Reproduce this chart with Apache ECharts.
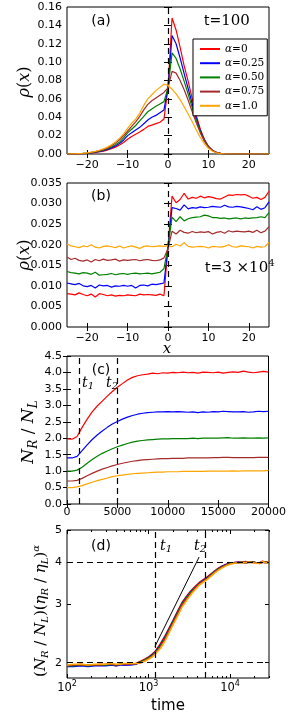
<!DOCTYPE html>
<html><head><meta charset="utf-8">
<script src="https://cdn.jsdelivr.net/npm/echarts@6/dist/echarts.min.js"></script>
<style>html,body{margin:0;padding:0;background:#fff}#c{width:289px;height:722px}</style>
</head><body><div id="c"></div>
<script>
// ---------- DATA ----------
const xPos = [-25,-24,-23,-22,-21,-20,-19,-18,-17,-16,-15,-14,-13,-12,-11,-10,-9,-8,-7,-6,-5,-4,-3,-2,-1,0,1,2,3,4,5,6,7,8,9,10,11,12,13,14,15,16,17,18,19,20,21,22,23,24,25];
const seriesNames = ['α=0','α=0.25','α=0.50','α=0.75','α=1.0'];
const xTicksAB = [-20,-10,0,10,20];

// panel (a) t=100
const aRed    = [0,0,0.0001,0.0002,0.0004,0.0007,0.0011,0.0016,0.0023,0.0032,0.0043,0.0058,0.0075,0.0098,0.0125,0.0160,0.0190,0.0215,0.0240,0.0268,0.0300,0.0315,0.0330,0.0345,0.0380,0.0720,0.1480,0.1350,0.1160,0.0960,0.0790,0.0600,0.0420,0.0270,0.0160,0.0085,0.0040,0.0017,0.0006,0.0002,0,0,0,0,0,0,0,0,0,0,0];
const aBlue   = [0,0,0.0001,0.0003,0.0005,0.0008,0.0013,0.0019,0.0027,0.0037,0.0050,0.0067,0.0088,0.0114,0.0150,0.0200,0.0230,0.0260,0.0290,0.0330,0.0370,0.0400,0.0420,0.0450,0.0480,0.0720,0.1290,0.1200,0.1045,0.0875,0.0710,0.0545,0.0390,0.0255,0.0152,0.0082,0.0039,0.0017,0.0006,0.0002,0,0,0,0,0,0,0,0,0,0,0];
const aGreen  = [0,0.0001,0.0002,0.0003,0.0006,0.0009,0.0015,0.0022,0.0031,0.0042,0.0057,0.0076,0.0100,0.0130,0.0175,0.0230,0.0270,0.0310,0.0360,0.0410,0.0460,0.0490,0.0520,0.0545,0.0570,0.0720,0.1100,0.1040,0.0925,0.0790,0.0650,0.0505,0.0365,0.0245,0.0148,0.0080,0.0038,0.0016,0.0006,0.0002,0,0,0,0,0,0,0,0,0,0,0];
const aBrown  = [0,0.0001,0.0002,0.0004,0.0007,0.0011,0.0017,0.0025,0.0035,0.0048,0.0065,0.0090,0.0120,0.0155,0.0200,0.0250,0.0300,0.0350,0.0410,0.0480,0.0540,0.0580,0.0610,0.0640,0.0670,0.0720,0.0900,0.0880,0.0800,0.0700,0.0585,0.0460,0.0340,0.0230,0.0140,0.0078,0.0038,0.0016,0.0006,0.0002,0,0,0,0,0,0,0,0,0,0,0];
const aOrange = [0,0.0001,0.0002,0.0005,0.0008,0.0013,0.0020,0.0029,0.0041,0.0056,0.0075,0.0100,0.0130,0.0170,0.0220,0.0280,0.0335,0.0380,0.0445,0.0530,0.0600,0.0645,0.0690,0.0725,0.0760,0.0745,0.0705,0.0655,0.0590,0.0515,0.0435,0.0350,0.0262,0.0180,0.0112,0.0062,0.0030,0.0013,0.0005,0.0002,0,0,0,0,0,0,0,0,0,0,0];

// panel (b) t=3e4
const bRed    = [0.0081,0.0080,0.0078,0.0083,0.0079,0.0076,0.0080,0.0073,0.0081,0.0079,0.0076,0.0078,0.0075,0.0077,0.0076,0.0078,0.0077,0.0076,0.0080,0.0078,0.0079,0.0078,0.0077,0.0080,0.0076,0.0195,0.0318,0.0302,0.0310,0.0325,0.0311,0.0315,0.0313,0.0318,0.0314,0.0317,0.0315,0.0312,0.0311,0.0316,0.0321,0.0320,0.0322,0.0321,0.0322,0.0318,0.0313,0.0315,0.0310,0.0315,0.0330];
const bBlue   = [0.0107,0.0105,0.0103,0.0106,0.0100,0.0098,0.0101,0.0095,0.0102,0.0100,0.0101,0.0097,0.0100,0.0099,0.0101,0.0099,0.0101,0.0095,0.0101,0.0102,0.0100,0.0104,0.0103,0.0105,0.0107,0.0195,0.0290,0.0288,0.0284,0.0297,0.0287,0.0290,0.0289,0.0292,0.0290,0.0291,0.0293,0.0292,0.0291,0.0296,0.0292,0.0291,0.0293,0.0292,0.0290,0.0288,0.0285,0.0292,0.0286,0.0290,0.0304];
const bGreen  = [0.0135,0.0132,0.0131,0.0129,0.0132,0.0131,0.0128,0.0133,0.0126,0.0127,0.0128,0.0130,0.0127,0.0129,0.0130,0.0128,0.0130,0.0131,0.0129,0.0130,0.0131,0.0129,0.0131,0.0133,0.0142,0.0195,0.0267,0.0256,0.0268,0.0258,0.0263,0.0266,0.0267,0.0268,0.0272,0.0270,0.0266,0.0266,0.0264,0.0265,0.0263,0.0264,0.0265,0.0263,0.0265,0.0264,0.0265,0.0266,0.0268,0.0266,0.0278];
const bBrown  = [0.0170,0.0164,0.0167,0.0162,0.0160,0.0163,0.0158,0.0164,0.0161,0.0165,0.0162,0.0163,0.0165,0.0160,0.0163,0.0162,0.0163,0.0164,0.0161,0.0163,0.0164,0.0162,0.0161,0.0163,0.0168,0.0190,0.0233,0.0226,0.0235,0.0230,0.0228,0.0232,0.0229,0.0231,0.0230,0.0232,0.0226,0.0230,0.0232,0.0228,0.0234,0.0231,0.0233,0.0232,0.0231,0.0233,0.0230,0.0235,0.0229,0.0233,0.0244];
const bOrange = [0.0202,0.0197,0.0195,0.0193,0.0197,0.0195,0.0200,0.0194,0.0192,0.0196,0.0197,0.0195,0.0193,0.0197,0.0192,0.0195,0.0197,0.0194,0.0191,0.0196,0.0197,0.0195,0.0196,0.0197,0.0196,0.0198,0.0195,0.0201,0.0197,0.0205,0.0196,0.0194,0.0195,0.0196,0.0195,0.0192,0.0196,0.0195,0.0194,0.0196,0.0200,0.0195,0.0194,0.0197,0.0196,0.0195,0.0192,0.0196,0.0194,0.0195,0.0206];

// panel (c) N_R/N_L vs time
const tC = [0,500,1000,1500,2000,2500,3000,3500,4000,4500,5000,5500,6000,6500,7000,7500,8000,8500,9000,9500,10000,10500,11000,11500,12000,12500,13000,13500,14000,14500,15000,15500,16000,16500,17000,17500,18000,18500,19000,19500,20000];
const cRed    = [1.98,1.97,2.05,2.33,2.58,2.80,2.98,3.13,3.28,3.42,3.55,3.66,3.77,3.85,3.90,3.93,3.95,3.98,3.96,3.99,3.98,4.00,3.99,4.01,3.99,4.00,3.98,4.01,4.00,3.99,4.01,3.98,4.00,4.02,4.00,4.04,4.01,3.99,4.01,4.03,4.01];
const cBlue   = [1.40,1.40,1.45,1.62,1.80,1.96,2.10,2.22,2.33,2.43,2.51,2.58,2.64,2.69,2.73,2.76,2.78,2.79,2.80,2.80,2.81,2.80,2.81,2.80,2.79,2.80,2.78,2.80,2.79,2.81,2.80,2.82,2.81,2.80,2.80,2.81,2.79,2.80,2.82,2.81,2.82];
const cGreen  = [1.00,1.00,1.03,1.12,1.24,1.35,1.45,1.54,1.61,1.68,1.74,1.79,1.84,1.88,1.91,1.93,1.95,1.96,1.97,1.98,1.98,1.99,1.99,1.99,1.99,2.00,1.99,2.00,2.00,2.00,2.00,2.01,2.02,2.00,2.00,2.01,2.00,2.00,2.01,2.00,2.01];
const cBrown  = [0.70,0.70,0.72,0.78,0.86,0.93,1.00,1.06,1.11,1.16,1.20,1.24,1.27,1.30,1.32,1.34,1.35,1.36,1.37,1.38,1.38,1.39,1.39,1.39,1.40,1.40,1.40,1.40,1.40,1.41,1.41,1.42,1.42,1.41,1.41,1.41,1.41,1.41,1.42,1.42,1.42];
const cOrange = [0.50,0.50,0.52,0.56,0.61,0.66,0.71,0.75,0.79,0.83,0.86,0.88,0.90,0.92,0.93,0.94,0.95,0.96,0.97,0.97,0.98,0.98,0.98,0.99,0.99,0.99,0.99,0.99,1.00,1.00,1.00,1.00,1.00,1.01,1.00,1.01,1.01,1.01,1.01,1.01,1.02];
const t1 = 1200, t2 = 5000;

// panel (d) scaled ratio vs time (log-log)
const tD = [100,120,150,180,220,260,300,350,400,450,500,600,700,800,900,1000,1100,1200,1400,1600,1800,2000,2300,2600,3000,3400,3800,4200,4700,5200,5800,6500,7200,8000,9000,10000,11000,12500,14000,15500,17000,19000,21000,23000,25000,27500,30000];
const dRed    = [1.97,1.97,1.98,1.96,1.97,1.98,1.97,1.98,1.96,1.98,1.97,1.98,1.99,2.02,2.05,2.08,2.12,2.16,2.28,2.41,2.55,2.68,2.87,3.04,3.19,3.31,3.40,3.48,3.55,3.61,3.69,3.77,3.84,3.90,3.95,3.98,3.99,4.01,4.00,4.02,4.00,4.01,3.99,3.98,4.03,4.00,4.02];
const dBlue   = [1.95,1.95,1.96,1.95,1.96,1.96,1.96,1.97,1.96,1.97,1.97,1.97,1.98,2.01,2.04,2.07,2.11,2.15,2.26,2.39,2.53,2.66,2.85,3.02,3.17,3.29,3.38,3.46,3.53,3.59,3.67,3.76,3.83,3.89,3.94,3.97,3.99,4.00,4.01,3.99,4.00,4.01,3.98,3.99,4.01,3.99,4.01];
const dGreen  = [1.96,1.96,1.97,1.96,1.97,1.97,1.97,1.98,1.97,1.98,1.98,1.98,1.99,2.01,2.04,2.07,2.10,2.14,2.25,2.38,2.52,2.65,2.84,3.01,3.16,3.28,3.37,3.45,3.52,3.58,3.66,3.75,3.82,3.88,3.93,3.97,3.98,3.99,4.00,3.99,4.01,4.00,3.99,3.98,4.01,4.00,4.00];
const dBrown  = [1.96,1.97,1.97,1.97,1.97,1.97,1.98,1.98,1.97,1.98,1.98,1.98,1.99,2.00,2.03,2.06,2.09,2.13,2.23,2.36,2.50,2.63,2.82,2.99,3.14,3.26,3.36,3.44,3.51,3.57,3.65,3.74,3.81,3.87,3.92,3.96,3.98,3.99,4.00,3.98,4.00,4.00,3.98,3.97,4.00,3.99,4.00];
const dOrange = [1.97,1.98,1.98,1.97,1.98,1.98,1.98,1.99,1.98,1.98,1.99,1.99,1.99,2.00,2.02,2.05,2.08,2.12,2.21,2.33,2.47,2.60,2.78,2.95,3.10,3.23,3.33,3.42,3.49,3.55,3.63,3.72,3.79,3.85,3.91,3.95,3.97,3.99,4.00,3.99,4.01,3.99,3.97,3.98,4.02,3.98,4.01];
const slopeT = [1200, 4170];
const slopeY = [2.24, 4.15];
const dTicksX = [100, 1000, 10000];
const dMinorX = [200,300,400,500,600,700,800,900,2000,3000,4000,5000,6000,7000,8000,9000,20000,30000];
const dTicksY = [2, 3, 4, 5];

// ---------- STYLE ----------
const SANS = 'DejaVu Sans', SERIF = 'DejaVu Serif';
const COLORS = ['#ff0000', '#0000ff', '#008000', '#a52a2a', '#ffa500'];
const LW = 1.2;

const grids = [
  {left: 67, top: 7,   width: 202, height: 147},
  {left: 67, top: 183, width: 202, height: 144},
  {left: 67, top: 356, width: 202, height: 148},
  {left: 67, top: 530, width: 202, height: 148}
].map(g => Object.assign({show: true, borderColor: '#000', borderWidth: 1, backgroundColor: 'transparent', containLabel: false}, g));

const xAxes = [], yAxes = [];
const addX = o => (xAxes.push(o), xAxes.length - 1);
const addY = o => (yAxes.push(o), yAxes.length - 1);
const tick = (len, extra) => Object.assign({show: true, inside: true, length: len, lineStyle: {color: '#000', width: 1}}, extra || {});
const lbl = extra => Object.assign({color: '#000', fontFamily: SANS, fontSize: 11}, extra || {});
const minusFmt = v => (v < 0 ? '\u2212' + (-v) : String(v));
const base = {axisLine: {show: false}, splitLine: {show: false}};

function pairX(gi, o, labelExtra, tickExtra) {
  const main = addX(Object.assign({gridIndex: gi, position: 'bottom'}, base, o,
    {axisTick: tick(4, tickExtra), axisLabel: lbl(labelExtra)}));
  addX(Object.assign({gridIndex: gi, position: 'top'}, base, o,
    {axisTick: tick(4, tickExtra), axisLabel: {show: false}}));
  return main;
}
function pairY(gi, o, labelExtra, tickExtra) {
  const main = addY(Object.assign({gridIndex: gi, position: 'left'}, base, o,
    {axisTick: tick(4, tickExtra), axisLabel: lbl(labelExtra)}));
  addY(Object.assign({gridIndex: gi, position: 'right'}, base, o,
    {axisTick: tick(4, tickExtra), axisLabel: {show: false}}));
  return main;
}

// (a)
const xa = pairX(0, {type: 'value', min: -25, max: 25}, {margin: 6, customValues: xTicksAB, formatter: minusFmt}, {customValues: xTicksAB});
const ya = pairY(0, {type: 'value', min: 0, max: 0.16, interval: 0.02}, {margin: 5, formatter: v => v.toFixed(2)});
// (b)
const xb = pairX(1, {type: 'value', min: -25, max: 25}, {margin: 6, customValues: xTicksAB, formatter: minusFmt}, {customValues: xTicksAB});
const yb = pairY(1, {type: 'value', min: 0, max: 0.035, interval: 0.005}, {margin: 5, formatter: v => v.toFixed(3)});
// (c)
const xc = pairX(2, {type: 'value', min: 0, max: 20000, interval: 5000}, {margin: 3, formatter: v => String(v)});
const yc = pairY(2, {type: 'value', min: 0, max: 4.5, interval: 0.5}, {margin: 5, formatter: v => v.toFixed(1)});
// (d)
const supRich = {
  b: {fontFamily: SANS, fontSize: 11.5, color: '#000'},
  s: {fontFamily: SANS, fontSize: 8, color: '#000', padding: [0, 0, 9, 0]}
};
const xd = pairX(3, {type: 'log', logBase: 10, min: 100, max: 30000},
  {margin: 2, customValues: dTicksX, rich: supRich, formatter: v => '{b|10}{s|' + Math.round(Math.log10(v)) + '}'},
  {customValues: dTicksX});
addX(Object.assign({gridIndex: 3, position: 'bottom', type: 'log', logBase: 10, min: 100, max: 30000}, base,
  {axisTick: tick(2, {customValues: dMinorX}), axisLabel: {show: false}}));
addX(Object.assign({gridIndex: 3, position: 'top', type: 'log', logBase: 10, min: 100, max: 30000}, base,
  {axisTick: tick(2, {customValues: dMinorX}), axisLabel: {show: false}}));
const yd = pairY(3, {type: 'log', logBase: 10, min: 1.8, max: 5}, {margin: 5, customValues: dTicksY}, {customValues: dTicksY});

// ---------- SERIES ----------
function line(name, xi, yi, xsArr, ysArr, color, width) {
  return {type: 'line', name, xAxisIndex: xi, yAxisIndex: yi, data: xsArr.map((x, i) => [x, ysArr[i]]),
    showSymbol: false, symbol: 'none', lineStyle: {color, width: width || LW}, itemStyle: {color},
    animation: false, silent: true};
}
function dashes(xi, yi, data) {
  return {type: 'line', xAxisIndex: xi, yAxisIndex: yi, data: [], animation: false, silent: true, z: 5,
    markLine: {silent: true, symbol: 'none', animation: false, label: {show: false},
      lineStyle: {color: '#000', type: [6, 4], width: 1.2}, data}};
}
const series = [];
[aRed, aBlue, aGreen, aBrown, aOrange].forEach((s, i) => series.push(line(seriesNames[i], xa, ya, xPos, s, COLORS[i])));
series.push(dashes(xa, ya, [{xAxis: 0}]));
[bRed, bBlue, bGreen, bBrown, bOrange].forEach((s, i) => series.push(line('b' + i, xb, yb, xPos, s, COLORS[i])));
series.push(dashes(xb, yb, [{xAxis: 0}]));
[cRed, cBlue, cGreen, cBrown, cOrange].forEach((s, i) => series.push(line('c' + i, xc, yc, tC, s, COLORS[i])));
series.push(dashes(xc, yc, [{xAxis: t1}, {xAxis: t2}]));
[dRed, dBlue, dGreen, dBrown, dOrange].forEach((s, i) => series.push(line('d' + i, xd, yd, tD, s, COLORS[i], 1.6)));
series.push(line('slope', xd, yd, slopeT, slopeY, '#000', 1));
series.push(dashes(xd, yd, [{xAxis: t1}, {xAxis: t2}, {yAxis: 2}, {yAxis: 4}]));

// ---------- TEXT ----------
const R = (o) => Object.assign({fill: '#000'}, o);
const mathRich = (fs) => ({
  i: R({fontFamily: SERIF, fontStyle: 'italic', fontSize: fs}),
  r: R({fontFamily: SERIF, fontSize: fs}),
  s: R({fontFamily: SANS, fontSize: fs - 1}),
  sub: R({fontFamily: SERIF, fontStyle: 'italic', fontSize: Math.round(fs * 0.68), padding: [Math.round(fs * 0.5), 0, 0, 0]}),
  sup: R({fontFamily: SERIF, fontStyle: 'italic', fontSize: Math.round(fs * 0.68), padding: [0, 0, Math.round(fs * 0.6), 0]}),
  supr: R({fontFamily: SERIF, fontSize: Math.round(fs * 0.68), padding: [0, 0, Math.round(fs * 0.6), 0]})
});
function txt(text, x, y, opts) {
  opts = opts || {};
  return {type: 'text', x, y, rotation: opts.rot || 0, z: 100, silent: true,
    style: {text, fill: '#000', fontFamily: opts.ff || SANS, fontSize: opts.fs || 13,
      fontStyle: opts.fst || 'normal', align: opts.align || 'center', verticalAlign: 'middle', rich: opts.rich || mathRich(opts.fs || 13)}};
}
const graphic = [
  txt('(a)', 101, 21, {fs: 14}),
  txt('(b)', 101, 196, {fs: 14}),
  txt('(c)', 101, 370, {fs: 14}),
  txt('(d)', 101, 546, {fs: 14}),
  txt('{s|t=}{r|100}', 204, 21, {fs: 15, align: 'left'}),
  txt('{s|t=}{r|3 ×10}{supr|4}', 205, 268, {fs: 15, align: 'left'}),
  txt('{i|t}{sub|1}', 82, 383, {fs: 14, align: 'left'}),
  txt('{i|t}{sub|2}', 106, 383, {fs: 14, align: 'left'}),
  txt('{i|t}{sub|1}', 160, 546, {fs: 14, align: 'left'}),
  txt('{i|t}{sub|2}', 194, 546, {fs: 14, align: 'left'}),
  txt('{i|ρ}{r|(}{i|x}{r|)}', 25, 82, {fs: 16, rot: Math.PI / 2}),
  txt('{i|ρ}{r|(}{i|x}{r|)}', 25, 255, {fs: 16, rot: Math.PI / 2}),
  txt('{i|x}', 167, 349, {fs: 15}),
  txt('{i|N}{sub|R}{r| / }{i|N}{sub|L}', 29, 432, {fs: 17, rot: Math.PI / 2}),
  txt('{r|(}{i|N}{sub|R}{r| / }{i|N}{sub|L}{r|)(}{i|η}{sub|R}{r| / }{i|η}{sub|L}{r|)}{sup|α}', 41, 611, {fs: 15, rot: Math.PI / 2}),
  txt('time', 168, 706, {fs: 15})
];

// ---------- CHART ----------
const chart = echarts.init(document.getElementById('c'), null, {renderer: 'canvas'});
chart.setOption({
  animation: false,
  backgroundColor: '#fff',
  grid: grids,
  xAxis: xAxes,
  yAxis: yAxes,
  legend: {
    data: seriesNames, orient: 'vertical', left: 193, top: 39,
    backgroundColor: '#fff', borderColor: '#000', borderWidth: 1, borderRadius: 0,
    padding: [4, 3, 4, 7], itemWidth: 20, itemHeight: 2, itemGap: 2.2, icon: 'rect',
    selectedMode: false, z: 50,
    textStyle: {color: '#000', fontFamily: SERIF, fontSize: 10.5, lineHeight: 12,
      rich: {i: {fontFamily: SERIF, fontStyle: 'italic', fontSize: 10.5, color: '#000'},
             n: {fontFamily: SERIF, fontSize: 10.5, color: '#000'}}},
    formatter: name => '{i|α}{n|' + name.slice(1) + '}'
  },
  series,
  graphic
});
</script></body></html>
